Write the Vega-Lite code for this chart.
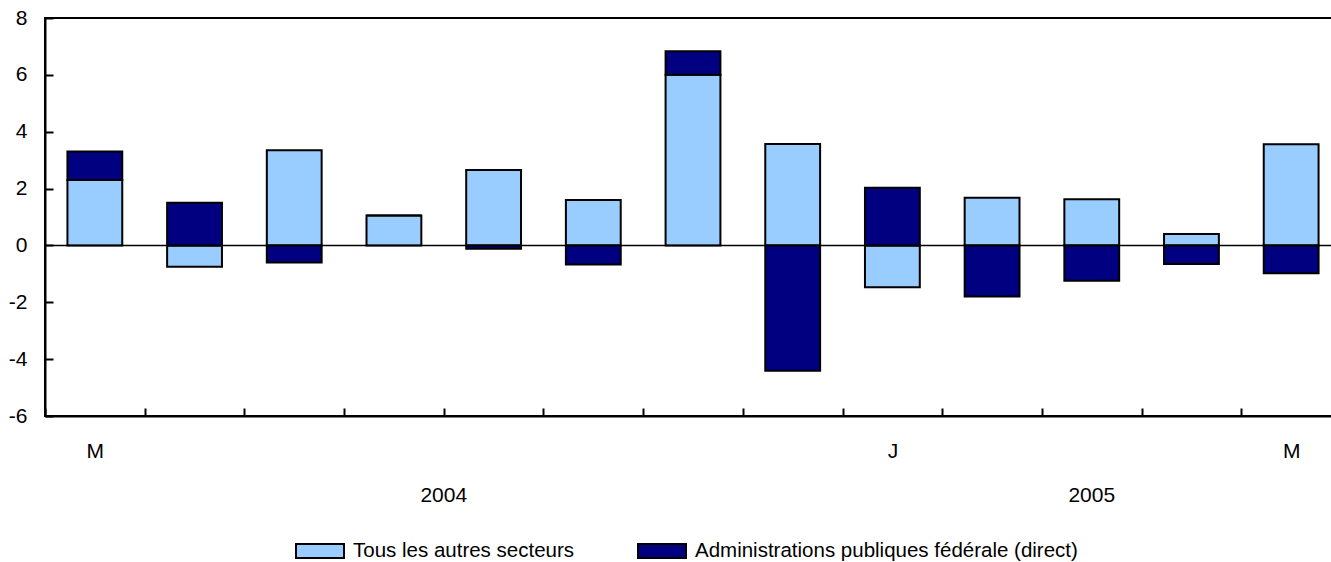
{
  "$schema": "https://vega.github.io/schema/vega-lite/v6.json",
  "autosize": "none",
  "width": 1287,
  "height": 398,
  "padding": {"left": 45, "top": 18, "right": 0, "bottom": 146},
  "background": "white",
  "config": {
    "font": "Liberation Sans",
    "view": {"stroke": "black", "strokeWidth": 2},
    "axis": {
      "labelFont": "Liberation Sans",
      "labelFontSize": 21,
      "labelColor": "black",
      "domainColor": "black",
      "domainWidth": 2,
      "tickColor": "black",
      "tickWidth": 2,
      "grid": false,
      "title": null
    }
  },
  "datasets": {
    "bars": [
      {"m": "2004-05", "s": "Tous les autres secteurs", "k": 1, "v": 2.3},
      {"m": "2004-05", "s": "Administrations publiques fédérale (direct)", "k": 2, "v": 1.0},
      {"m": "2004-06", "s": "Tous les autres secteurs", "k": 1, "v": -0.75},
      {"m": "2004-06", "s": "Administrations publiques fédérale (direct)", "k": 2, "v": 1.5},
      {"m": "2004-07", "s": "Tous les autres secteurs", "k": 1, "v": 3.35},
      {"m": "2004-07", "s": "Administrations publiques fédérale (direct)", "k": 2, "v": -0.6},
      {"m": "2004-08", "s": "Tous les autres secteurs", "k": 1, "v": 1.05},
      {"m": "2004-08", "s": "Administrations publiques fédérale (direct)", "k": 2, "v": 0},
      {"m": "2004-09", "s": "Tous les autres secteurs", "k": 1, "v": 2.65},
      {"m": "2004-09", "s": "Administrations publiques fédérale (direct)", "k": 2, "v": -0.12},
      {"m": "2004-10", "s": "Tous les autres secteurs", "k": 1, "v": 1.6},
      {"m": "2004-10", "s": "Administrations publiques fédérale (direct)", "k": 2, "v": -0.67},
      {"m": "2004-11", "s": "Tous les autres secteurs", "k": 1, "v": 6.0},
      {"m": "2004-11", "s": "Administrations publiques fédérale (direct)", "k": 2, "v": 0.83},
      {"m": "2004-12", "s": "Tous les autres secteurs", "k": 1, "v": 3.57},
      {"m": "2004-12", "s": "Administrations publiques fédérale (direct)", "k": 2, "v": -4.41},
      {"m": "2005-01", "s": "Tous les autres secteurs", "k": 1, "v": -1.47},
      {"m": "2005-01", "s": "Administrations publiques fédérale (direct)", "k": 2, "v": 2.03},
      {"m": "2005-02", "s": "Tous les autres secteurs", "k": 1, "v": 1.68},
      {"m": "2005-02", "s": "Administrations publiques fédérale (direct)", "k": 2, "v": -1.8},
      {"m": "2005-03", "s": "Tous les autres secteurs", "k": 1, "v": 1.62},
      {"m": "2005-03", "s": "Administrations publiques fédérale (direct)", "k": 2, "v": -1.24},
      {"m": "2005-04", "s": "Tous les autres secteurs", "k": 1, "v": 0.4},
      {"m": "2005-04", "s": "Administrations publiques fédérale (direct)", "k": 2, "v": -0.65},
      {"m": "2005-05", "s": "Tous les autres secteurs", "k": 1, "v": 3.56},
      {"m": "2005-05", "s": "Administrations publiques fédérale (direct)", "k": 2, "v": -0.98}
    ],
    "y2004": [{"m": "2004-08", "label": "2004"}],
    "y2005": [{"m": "2005-03", "label": "2005"}]
  },
  "layer": [
    {
      "data": {"name": "bars"},
      "mark": {"type": "bar", "stroke": "black", "strokeWidth": 2, "width": {"band": 0.55}},
      "encoding": {
        "x": {
          "field": "m",
          "type": "ordinal",
          "scale": {
            "type": "band",
            "domain": ["2004-05","2004-06","2004-07","2004-08","2004-09","2004-10","2004-11","2004-12","2005-01","2005-02","2005-03","2005-04","2005-05"],
            "range": [0, 1296],
            "paddingInner": 0,
            "paddingOuter": 0
          },
          "axis": {
            "labelExpr": "datum.value == '2004-05' || datum.value == '2005-05' ? 'M' : (datum.value == '2005-01' ? 'J' : '')",
            "labelAngle": 0,
            "tickBand": "extent",
            "tickSize": -8,
            "labelPadding": 32,
            "labelBaseline": "top"
          }
        },
        "y": {
          "field": "v",
          "type": "quantitative",
          "stack": "zero",
          "scale": {"domain": [-6, 8], "nice": false, "zero": false},
          "axis": {
            "values": [-6, -4, -2, 0, 2, 4, 6, 8],
            "labelExpr": "'' + datum.value",
            "tickSize": -8,
            "labelPadding": 26
          }
        },
        "color": {
          "field": "s",
          "type": "nominal",
          "scale": {
            "domain": ["Tous les autres secteurs", "Administrations publiques fédérale (direct)"],
            "range": ["#99CCFF", "#000080"]
          },
          "legend": {
            "title": null,
            "orient": "none",
            "direction": "horizontal",
            "legendX": 250,
            "legendY": 508,
            "symbolType": "M-1,-0.29H1V0.29H-1Z",
            "symbolSize": 2304,
            "symbolStrokeColor": "black",
            "symbolStrokeWidth": 2,
            "symbolOpacity": 1,
            "labelFontSize": 20.5,
            "labelFont": "Liberation Sans",
            "labelColor": "black",
            "labelOffset": 8,
            "columnPadding": 59,
            "labelLimit": 600
          }
        },
        "order": {"field": "k", "type": "quantitative"}
      }
    },
    {
      "data": {"values": [{}]},
      "mark": {"type": "rule", "color": "black", "strokeWidth": 1.5},
      "encoding": {"y": {"datum": 0}}
    },
    {
      "data": {"name": "y2004"},
      "mark": {"type": "text", "fontSize": 21, "font": "Liberation Sans", "color": "black", "baseline": "middle", "align": "center"},
      "encoding": {
        "x": {"field": "m", "type": "ordinal", "bandPosition": 1},
        "y": {"datum": -8.8},
        "text": {"field": "label"}
      }
    },
    {
      "data": {"name": "y2005"},
      "mark": {"type": "text", "fontSize": 21, "font": "Liberation Sans", "color": "black", "baseline": "middle", "align": "center"},
      "encoding": {
        "x": {"field": "m", "type": "ordinal", "bandPosition": 0.5},
        "y": {"datum": -8.8},
        "text": {"field": "label"}
      }
    }
  ]
}
